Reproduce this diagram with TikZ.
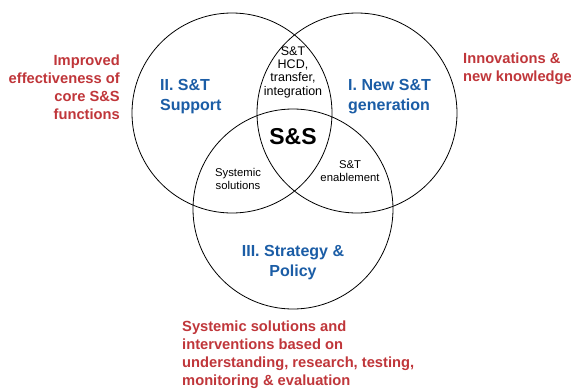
\documentclass[tikz,border=0pt]{standalone}
\usepackage{fontspec}
\setmainfont{Liberation Sans}
\definecolor{vblue}{HTML}{1B5DA6}
\definecolor{vred}{HTML}{C0363A}
\begin{document}
\begin{tikzpicture}[x=1pt,y=-1pt,
  ring/.style={draw=black,line width=0.8pt},
  bluelbl/.style={text=vblue,font=\bfseries\fontsize{16}{20}\selectfont,inner sep=0pt},
  redlbl/.style={text=vred,font=\bfseries\fontsize{14.7}{18}\selectfont,inner sep=0pt},
  smalllbl/.style={text=black,font=\fontsize{11.3}{13}\selectfont,inner sep=0pt,align=center},
  biglbl/.style={text=black,font=\bfseries\fontsize{23}{26}\selectfont,inner sep=0pt}]
\useasboundingbox (0,0) rectangle (571,389);
\fill[white] (0,0) rectangle (571,389);
\node[ring,circle,minimum size=200pt,inner sep=0pt] (left) at (232,113) {};
\node[ring,circle,minimum size=200pt,inner sep=0pt] (right) at (357,113) {};
\node[ring,circle,minimum size=200pt,inner sep=0pt] (bottom) at (293,209) {};
\node[bluelbl,align=left,anchor=west] (support) at (160,97) {II. S\&T\\Support};
\node[bluelbl,align=left,anchor=west] (newst) at (348,97) {I. New S\&T\\generation};
\node[bluelbl,align=center] (strategy) at (293,263) {III. Strategy \&\\Policy};
\node[smalllbl,font=\fontsize{12.5}{13.3}\selectfont] (hcd) at (293,72) {S\&T\\HCD,\\transfer,\\integration};
\node[biglbl] (ss) at (293,137) {S\&S};
\node[smalllbl] (sys) at (238,179) {Systemic\\solutions};
\node[smalllbl] (enable) at (350,171.5) {S\&T\\enablement};
\node[redlbl,align=right,anchor=east] (improved) at (120,87) {Improved\\effectiveness of\\core S\&S\\functions};
\node[redlbl,align=left,anchor=west] (innov) at (463,69) {Innovations \&\\new knowledge};
\node[redlbl,align=left,anchor=west] (systemic) at (182,355) {Systemic solutions and\\interventions based on\\understanding, research, testing,\\monitoring \& evaluation};
\end{tikzpicture}
\end{document}
